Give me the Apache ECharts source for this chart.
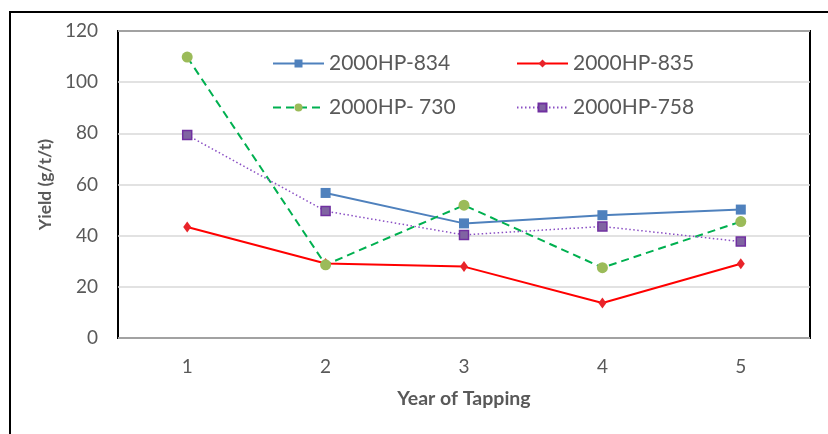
<!DOCTYPE html>
<html>
<head>
<meta charset="utf-8">
<script src="https://cdn.jsdelivr.net/npm/echarts@6/dist/echarts.min.js"></script>
<style>
html,body{margin:0;padding:0;background:#fff;}
#c{width:828px;height:434px;}
</style>
</head>
<body>
<div id="c"></div>
<script>
const categories = ['1', '2', '3', '4', '5'];
const s834 = [null, 56.7, 44.8, 48.0, 50.2];
const s835 = [43.4, 29.1, 27.9, 13.7, 29.0];
const s730 = [109.8, 28.6, 51.9, 27.5, 45.5];
const s758 = [79.3, 49.6, 40.3, 43.6, 37.7];
const names = ['2000HP-834', '2000HP-835', '2000HP- 730', '2000HP-758'];

const FONT = 'Lato';
const chart = echarts.init(document.getElementById('c'));

function legendAt(name, left, top) {
  return {
    data: [name], left: left, top: top, itemWidth: 51, itemHeight: 10, itemGap: 0,
    itemTextGap: 7, padding: 0,
    textStyle: { fontFamily: FONT, fontSize: 21, color: '#595959' }
  };
}

chart.setOption({
  animation: false,
  backgroundColor: '#fff',
  graphic: [{
    type: 'rect', shape: { x: 10, y: 12, width: 840, height: 440 },
    style: { fill: 'none', stroke: '#000', lineWidth: 2 }, z: 100
  }],
  grid: { left: 118, right: 18, top: 31, bottom: 96, show: true, borderColor: '#000', borderWidth: 2, backgroundColor: 'transparent' },
  legend: [
    legendAt(names[0], 272, 53),
    legendAt(names[1], 516, 53),
    legendAt(names[2], 272, 97),
    legendAt(names[3], 516, 97)
  ],
  xAxis: {
    type: 'category', data: categories, boundaryGap: true,
    axisLine: { show: false }, axisTick: { show: false },
    axisLabel: { margin: 19, fontFamily: FONT, fontSize: 19, color: '#595959' },
    name: 'Year of Tapping', nameLocation: 'middle', nameGap: 51,
    nameTextStyle: { fontFamily: FONT, fontSize: 19.5, fontWeight: 'bold', color: '#595959' }
  },
  yAxis: {
    type: 'value', min: 0, max: 120, interval: 20,
    axisLine: { show: false }, axisTick: { show: false },
    axisLabel: { margin: 20, fontFamily: FONT, fontSize: 19, color: '#595959' },
    splitLine: { lineStyle: { color: '#d9d9d9', width: 1.5 } },
    name: 'Yield (g/t/t)', nameLocation: 'middle', nameGap: 61,
    nameTextStyle: { fontFamily: FONT, fontSize: 17.5, fontWeight: 'bold', color: '#595959' }
  },
  series: [
    {
      name: names[0], type: 'line', data: s834, symbol: 'rect', symbolSize: 10,
      lineStyle: { color: '#4f81bd', width: 2 }, itemStyle: { color: '#4f81bd' }, connectNulls: false
    },
    {
      name: names[1], type: 'line', data: s835, symbol: 'diamond', symbolSize: [8, 11],
      lineStyle: { color: '#ff0000', width: 2 }, itemStyle: { color: '#e8242a' }
    },
    {
      name: names[2], type: 'line', data: s730, symbol: 'circle', symbolSize: 11,
      lineStyle: { color: '#00b050', width: 2, type: [8, 5] }, itemStyle: { color: '#9bbb59' }
    },
    {
      name: names[3], type: 'line', data: s758, symbol: 'rect', symbolSize: 9,
      lineStyle: { color: '#8a4fc4', width: 1.5, type: [1.5, 2.5] },
      itemStyle: { color: '#8064a2', borderColor: '#7030a0', borderWidth: 1.5 }
    }
  ]
});
</script>
</body>
</html>
